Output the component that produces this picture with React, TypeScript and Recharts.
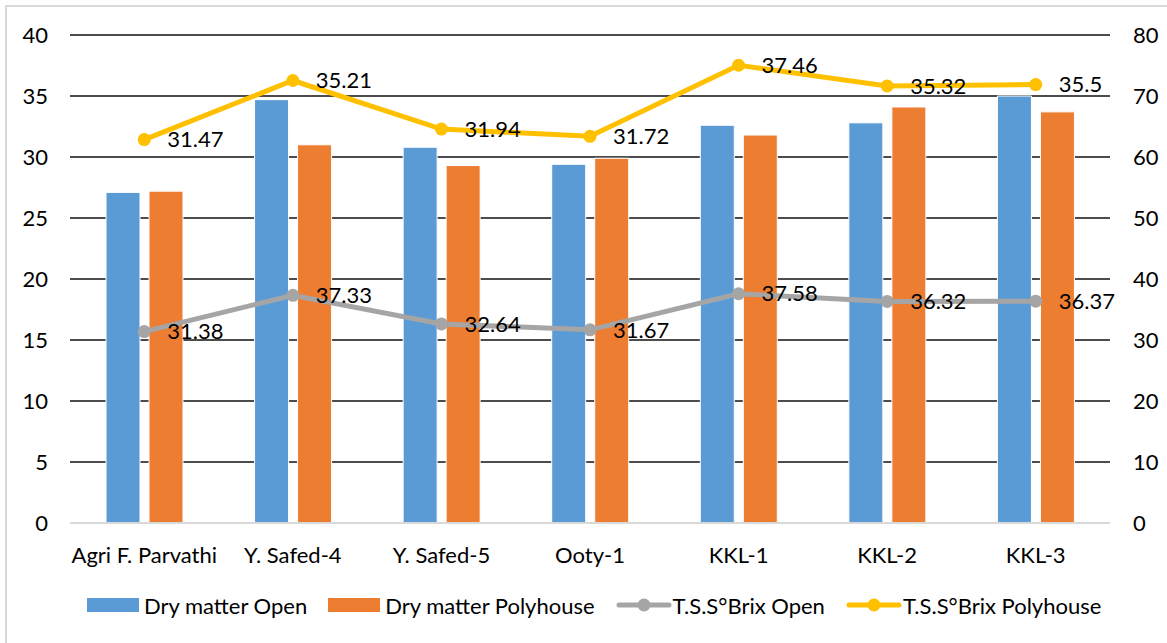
import React from 'react';
import { ComposedChart, Bar, Area, XAxis, YAxis, CartesianGrid, Legend } from 'recharts';

const categories = ['Agri F. Parvathi', 'Y. Safed-4', 'Y. Safed-5', 'Ooty-1', 'KKL-1', 'KKL-2', 'KKL-3'];
const dryOpen = [27.1, 34.7, 30.8, 29.4, 32.6, 32.8, 35.0];
const dryPoly = [27.2, 31.0, 29.3, 29.9, 31.8, 34.1, 33.7];
const tssOpen = [31.38, 37.33, 32.64, 31.67, 37.58, 36.32, 36.37];
const tssPoly = [31.47, 35.21, 31.94, 31.72, 37.46, 35.32, 35.5];
const leftTicks = [0, 5, 10, 15, 20, 25, 30, 35, 40];
const rightTicks = [0, 10, 20, 30, 40, 50, 60, 70, 80];

const FONT = 'Lato, "Noto Sans", sans-serif';
const FS = 22;
const BLUE = '#5B9BD5';
const ORANGE = '#ED7D31';
const GRAY = '#A5A5A5';
const YELLOW = '#FFC000';

const data = categories.map((name, i) => ({
  name,
  dryOpen: dryOpen[i],
  dryPoly: dryPoly[i],
  tssOpen: tssOpen[i],
  tssPoly: tssPoly[i],
}));

// labels sit to the right of each point, showing the raw (unstacked) value
const makeLabel = (values: number[]) => (props: any) => {
  const { x, y, index } = props;
  if (x == null || y == null) return null;
  return (
    <text key={`lbl-${index}`} x={x + 23} y={y} dy="0.35em" fill="#000" fontSize={FS} fontFamily={FONT} textAnchor="start">
      {values[index]}
    </text>
  );
};

const makeDot = (color: string) => (props: any) => {
  const { cx, cy, index } = props;
  if (cx == null || cy == null) return <g key={`dot-${index}`} />;
  return <circle key={`dot-${index}`} cx={cx} cy={cy} r={6.5} fill={color} fillOpacity={1} stroke="none" />;
};

const legendItems = [
  { label: 'Dry matter Open', color: BLUE, type: 'rect' },
  { label: 'Dry matter Polyhouse', color: ORANGE, type: 'rect' },
  { label: 'T.S.S°Brix Open', color: GRAY, type: 'line' },
  { label: 'T.S.S°Brix Polyhouse', color: YELLOW, type: 'line' },
];

function ChartLegend() {
  return (
    <div style={{ height: 36, display: 'flex', alignItems: 'center', paddingLeft: 87, fontFamily: FONT, fontSize: FS, color: '#000' }}>
      {legendItems.map(item => (
        <div key={item.label} style={{ display: 'flex', alignItems: 'center', marginRight: 21 }}>
          {item.type === 'rect' ? (
            <svg width={57} height={14}>
              <rect x={0} y={0} width={52} height={14} fill={item.color} />
            </svg>
          ) : (
            <svg width={57} height={14}>
              <line x1={3} y1={7} x2={53} y2={7} stroke={item.color} strokeWidth={5} strokeLinecap="round" />
              <circle cx={28} cy={7} r={6.5} fill={item.color} />
            </svg>
          )}
          <span>{item.label}</span>
        </div>
      ))}
    </div>
  );
}

export default function App() {
  return (
    <div style={{ position: 'absolute', left: 0, top: 0, width: 1167, height: 643, background: '#fff' }}>
      <div style={{ position: 'absolute', left: 5, top: 5, width: 1162, height: 638, borderTop: '2px solid #d9d9d9', borderLeft: '2px solid #d9d9d9' }} />
      <ComposedChart
        width={1167}
        height={643}
        data={data}
        margin={{ top: 35, right: 0, left: 0, bottom: 20 }}
        barGap={9}
        style={{ position: 'absolute', left: 0, top: 0 }}
      >
        <CartesianGrid vertical={false} stroke="#111" strokeWidth={1.6} yAxisId="left" />
        <XAxis
          dataKey="name"
          interval={0}
          tickLine={false}
          tickSize={0}
          tickMargin={24}
          height={64}
          axisLine={{ stroke: '#d9d9d9', strokeWidth: 2 }}
          tick={{ fill: '#000', fontSize: FS, fontFamily: FONT }}
        />
        <YAxis
          yAxisId="left"
          domain={[0, 40]}
          ticks={leftTicks}
          width={70}
          axisLine={false}
          tickLine={false}
          tickSize={0}
          tickMargin={22}
          tick={{ fill: '#000', fontSize: FS, fontFamily: FONT }}
        />
        <YAxis
          yAxisId="right"
          orientation="right"
          domain={[0, 80]}
          ticks={rightTicks}
          width={57}
          axisLine={false}
          tickLine={false}
          tickSize={0}
          tickMargin={23}
          tick={{ fill: '#000', fontSize: FS, fontFamily: FONT, textAnchor: 'start' }}
        />
        <Legend verticalAlign="bottom" content={() => <ChartLegend />} />
        <Bar yAxisId="left" dataKey="dryOpen" name="Dry matter Open" fill={BLUE} stroke="#fff" strokeWidth={1} barSize={34} isAnimationActive={false} />
        <Bar yAxisId="left" dataKey="dryPoly" name="Dry matter Polyhouse" fill={ORANGE} stroke="#fff" strokeWidth={1} barSize={34} isAnimationActive={false} />
        <Area
          yAxisId="right"
          type="linear"
          dataKey="tssOpen"
          name="T.S.S°Brix Open"
          stackId="tss"
          fill="none"
          stroke={GRAY}
          strokeWidth={5}
          dot={makeDot(GRAY)}
          activeDot={false}
          label={makeLabel(tssOpen)}
          zIndex={500}
          isAnimationActive={false}
        />
        <Area
          yAxisId="right"
          type="linear"
          dataKey="tssPoly"
          name="T.S.S°Brix Polyhouse"
          stackId="tss"
          fill="none"
          stroke={YELLOW}
          strokeWidth={5}
          dot={makeDot(YELLOW)}
          activeDot={false}
          label={makeLabel(tssPoly)}
          zIndex={500}
          isAnimationActive={false}
        />
      </ComposedChart>
    </div>
  );
}
